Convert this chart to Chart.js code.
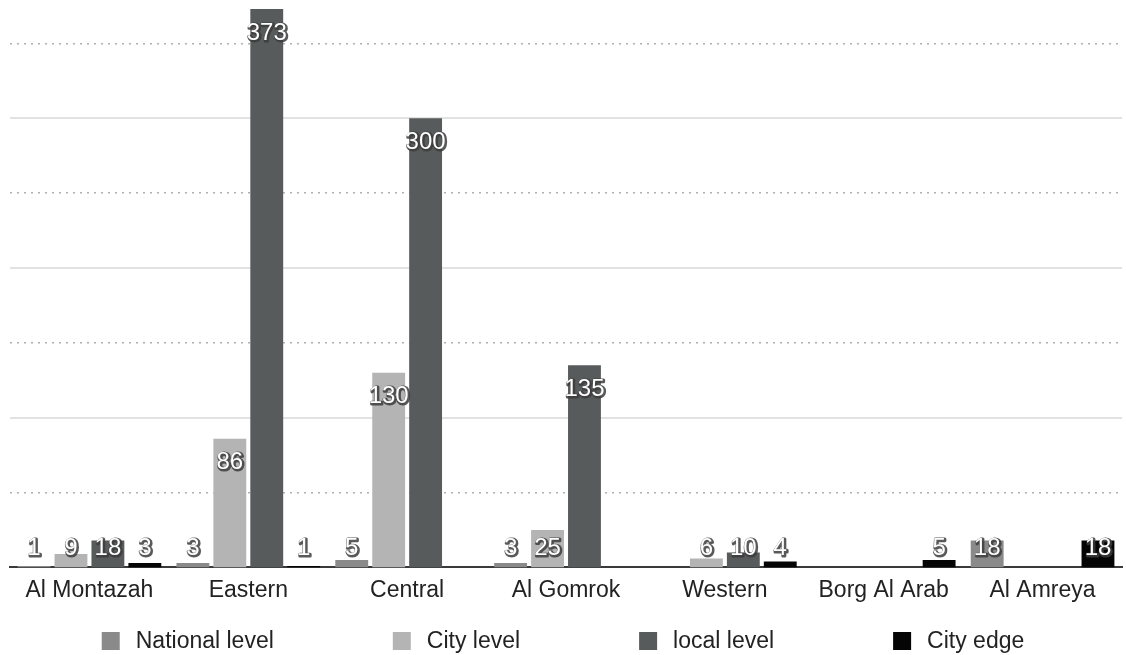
<!DOCTYPE html>
<html>
<head>
<meta charset="utf-8">
<script src="https://cdn.jsdelivr.net/npm/chart.js@4.4.0/dist/chart.umd.min.js"></script>
<style>
  html, body { margin: 0; padding: 0; background: #ffffff; }
  #wrap { width: 1126px; height: 655px; position: relative; }
</style>
</head>
<body>
<div id="wrap"><canvas id="c" width="1126" height="655"></canvas></div>
<script>
const categories = ['Al Montazah', 'Eastern', 'Central', 'Al Gomrok', 'Western', 'Borg Al Arab', 'Al Amreya'];
const seriesNames = ['National level', 'City level', 'local level', 'City edge'];
const nationalLevel = [1, 3, 5, 3, null, null, 18];
const cityLevel = [9, 86, 130, 25, 6, null, null];
const localLevel = [18, 373, 300, 135, 10, null, null];
const cityEdge = [3, 1, null, null, 4, 5, 18];
const solidGridValues = [100, 200, 300];
const dottedGridValues = [50, 150, 250, 350];
const seriesColors = ['#8a8a8a', '#b4b4b4', '#575b5b', '#050505'];

const FONT = '"Liberation Sans", Arial, Helvetica, sans-serif';

const valueLabels = {
  id: 'valueLabels',
  afterDatasetsDraw(chart) {
    const ctx = chart.ctx;
    const base = chart.scales.y.getPixelForValue(0);
    ctx.save();
    ctx.font = '24px ' + FONT;
    ctx.textAlign = 'center';
    ctx.textBaseline = 'middle';
    ctx.lineJoin = 'round';
    chart.data.datasets.forEach((ds, di) => {
      const meta = chart.getDatasetMeta(di);
      meta.data.forEach((bar, i) => {
        const v = ds.data[i];
        if (v === null || v === undefined) return;
        const y = Math.min(bar.y + 24, base - 19);
        const t = String(v);
        ctx.lineWidth = 3;
        ctx.strokeStyle = 'rgba(60,60,60,0.85)';
        ctx.strokeText(t, bar.x + 1, y + 1);
        ctx.fillStyle = '#ffffff';
        ctx.fillText(t, bar.x, y);
      });
    });
    ctx.restore();
  }
};

const bottomLegend = {
  id: 'bottomLegend',
  afterDraw(chart) {
    const ctx = chart.ctx;
    ctx.save();
    ctx.font = '23px ' + FONT;
    ctx.textBaseline = 'middle';
    ctx.textAlign = 'left';
    const box = 18, gap = 16, pad = 119, cy = 641;
    const items = chart.data.datasets.map(ds => ({ text: ds.label, color: ds.backgroundColor }));
    const widths = items.map(it => box + gap + ctx.measureText(it.text).width);
    const total = widths.reduce((a, b) => a + b, 0) + pad * (items.length - 1);
    let x = (chart.width - total) / 2;
    items.forEach((it, i) => {
      ctx.fillStyle = it.color;
      ctx.fillRect(x, cy - box / 2, box, box);
      ctx.fillStyle = '#222222';
      ctx.fillText(it.text, x + box + gap, cy + 1);
      x += widths[i] + pad;
    });
    ctx.restore();
  }
};

const seriesData = [nationalLevel, cityLevel, localLevel, cityEdge];

new Chart(document.getElementById('c'), {
  type: 'bar',
  data: {
    labels: categories,
    datasets: seriesNames.map((name, k) => ({
      label: name,
      data: seriesData[k],
      backgroundColor: seriesColors[k],
      borderWidth: 0,
      categoryPercentage: 0.93,
      barPercentage: 0.89,
      yAxisID: 'y'
    }))
  },
  options: {
    responsive: false,
    devicePixelRatio: 1,
    animation: false,
    layout: { padding: { left: 10, right: 4, top: 6, bottom: 42 } },
    plugins: {
      legend: { display: false },
      tooltip: { enabled: false },
      title: { display: false }
    },
    scales: {
      x: {
        grid: { display: false, drawTicks: false },
        border: { display: true, color: '#3a3a3a', width: 2 },
        ticks: {
          color: '#222222',
          font: { family: FONT, size: 23 },
          padding: 9,
          maxRotation: 0,
          autoSkip: false
        }
      },
      y: {
        min: 0, max: 375,
        position: 'left',
        ticks: { display: false, stepSize: 50 },
        border: { display: false },
        grid: { color: '#e2e2e2', lineWidth: 2, drawTicks: false },
        afterBuildTicks(axis) { axis.ticks = axis.ticks.filter(t => solidGridValues.includes(t.value)); }
      },
      y2: {
        min: 0, max: 375,
        position: 'left',
        ticks: { display: false, stepSize: 50 },
        border: { display: false, dash: [2, 5] },
        grid: { color: '#b0b0b0', lineWidth: 1.5, drawTicks: false, borderDash: [2, 5] },
        afterBuildTicks(axis) { axis.ticks = axis.ticks.filter(t => dottedGridValues.includes(t.value)); }
      }
    }
  },
  plugins: [valueLabels, bottomLegend]
});
</script>
</body>
</html>
